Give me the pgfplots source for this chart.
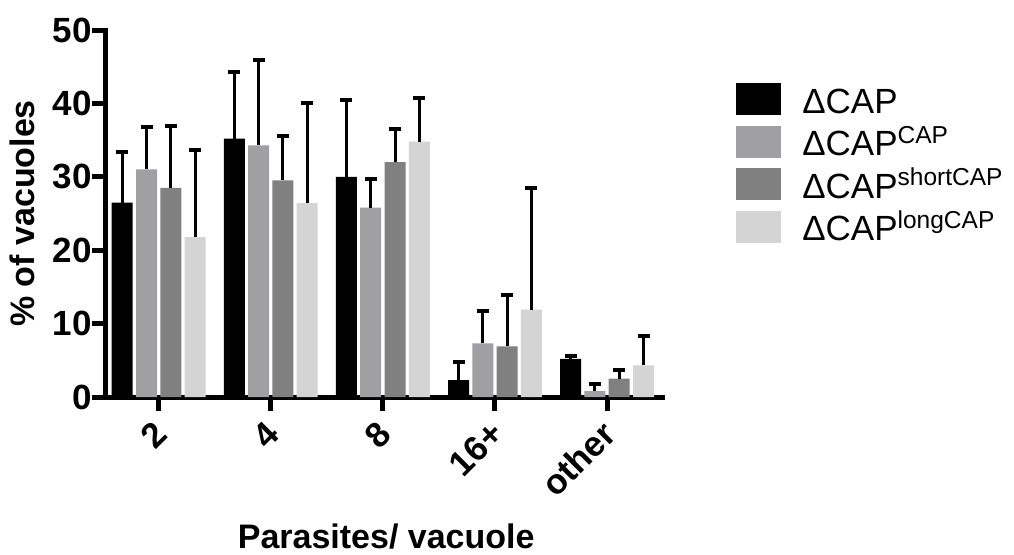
\documentclass[border=0pt]{standalone}
\usepackage{pgfplots}
\pgfplotsset{compat=1.18}
\usepackage{pgfplotstable}
\usepackage{fontspec}
\setmainfont{Liberation Sans}
\definecolor{cA}{RGB}{0,0,0}
\definecolor{cB}{RGB}{160,160,164}
\definecolor{cC}{RGB}{128,128,128}
\definecolor{cD}{RGB}{212,212,212}
\pgfplotstableread{
x y e
0 26.5 6.9
1 35.2 9.1
2 30.0 10.5
3 2.3 2.5
4 5.2 0.4
}\tA
\pgfplotstableread{
x y e
0 31.0 5.8
1 34.3 11.6
2 25.8 3.9
3 7.3 4.4
4 0.8 1.0
}\tB
\pgfplotstableread{
x y e
0 28.5 8.4
1 29.5 6.1
2 32.0 4.5
3 6.9 7.0
4 2.5 1.2
}\tC
\pgfplotstableread{
x y e
0 21.8 11.9
1 26.4 13.6
2 34.8 5.9
3 11.9 16.6
4 4.3 4.0
}\tD
\begin{document}
\begin{tikzpicture}
\path[use as bounding box] (-53pt,-78.5pt) rectangle (454pt,198.5pt);
\begin{axis}[
  scale only axis,
  width=278pt, height=183.5pt,
  xmin=-0.47, xmax=4.49,
  ymin=0, ymax=50,
  ybar=1.65pt, bar width=10.5pt,
  axis x line=bottom, axis y line=left,
  axis line style={-, line width=2.5pt, line cap=rect},
  tick style={line width=2.5pt, black},
  major tick length=7pt,
  tick align=outside,
  xtick={0,1,2,3,4},
  xticklabels={2,4,8,16+,other},
  ytick={0,10,20,30,40,50},
  /pgf/number format/assume math mode=true,
  ticklabel style={font=\bfseries\fontsize{17.5}{17.5}\selectfont},
  yticklabel style={xshift=3.3pt},
  xticklabel style={yshift=-6pt, xshift=3.5pt, rotate=45, anchor=east},
  ylabel={\% of vacuoles},
  xlabel={Parasites/ vacuole},
  label style={font=\bfseries\fontsize{17}{17}\selectfont},
  ylabel style={at={(axis description cs:-0.151,0.5)}, anchor=center},
  xlabel style={at={(axis description cs:0.504,-0.414)}, anchor=base},
  error bars/y dir=plus,
  error bars/y explicit,
  error bars/error mark=|,
  error bars/error bar style={line width=1.5pt, draw=black},
  error bars/error mark options={line width=2pt, draw=black, mark size=3pt},
  legend image code/.code={\path[#1, draw=none] (0pt,-8pt) rectangle (22.5pt,8pt);},
  legend style={at={(axis description cs:1.133,0.8556)}, anchor=north west, draw=none, inner sep=0pt,
    font=\fontsize{17.5}{17.5}\selectfont, row sep=5.25pt, column sep=10.5pt,
    nodes={inner sep=0pt, text height=15pt, text depth=1pt}},
  legend cell align=left,
]
\addplot[fill=cA, draw=none] table[x=x, y=y, y error=e] {\tA};
\addplot[fill=cB, draw=none] table[x=x, y=y, y error=e] {\tB};
\addplot[fill=cC, draw=none] table[x=x, y=y, y error=e] {\tC};
\addplot[fill=cD, draw=none] table[x=x, y=y, y error=e] {\tD};
\legend{ΔCAP, ΔCAP\textsuperscript{CAP}, ΔCAP\textsuperscript{shortCAP}, ΔCAP\textsuperscript{longCAP}}
\end{axis}
\end{tikzpicture}
\end{document}
